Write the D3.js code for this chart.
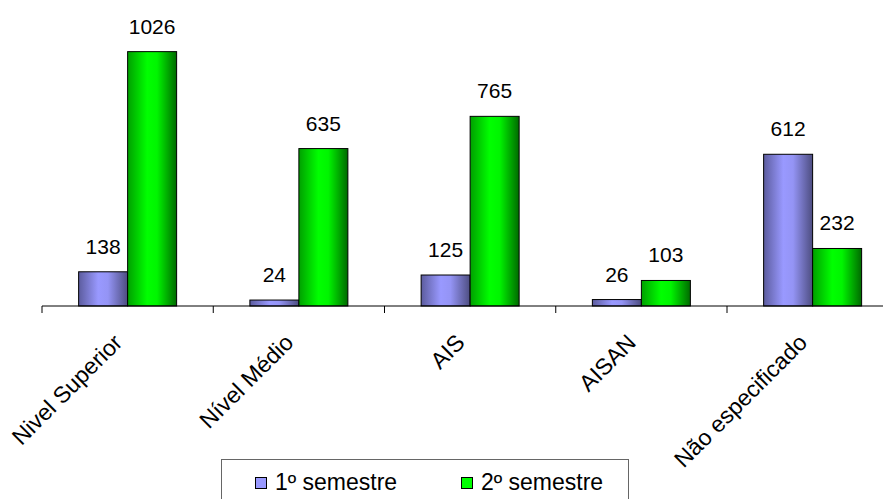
<!DOCTYPE html>
<html>
<head>
<meta charset="utf-8">
<script src="https://cdn.jsdelivr.net/npm/d3@7/dist/d3.min.js"></script>
<style>
  html, body { margin: 0; padding: 0; background: #fff; }
  svg { display: block; font-family: "Liberation Sans", Arial, sans-serif; }
</style>
</head>
<body>
<svg id="chart" width="883" height="499"></svg>
<script>
// Categories and values per semester
const categories = ["Nivel Superior", "Nível Médio", "AIS", "AISAN", "Não especificado"];
const semestre1 = [138, 24, 125, 26, 612];
const semestre2 = [1026, 635, 765, 103, 232];
const seriesNames = ["1º semestre", "2º semestre"];

const svg = d3.select("#chart");

const plotLeft = 42, bandW = 171.25, baseY = 306, topY = 8.5;

const x = d3.scaleBand()
  .domain(categories)
  .range([plotLeft, plotLeft + bandW * categories.length])
  .paddingInner(0).paddingOuter(0);

const y = d3.scaleLinear().domain([0, 1200]).range([baseY, topY]);

// Horizontal gradients giving the cylinder-like shading
const defs = svg.append("defs");
const gradSpecs = [
  { id: "g0", stops: [["0%", "#5c5c9e"], ["40%", "#9999ff"], ["60%", "#9494f5"], ["100%", "#4d4d80"]] },
  { id: "g1", stops: [["0%", "#00a000"], ["40%", "#00ff00"], ["60%", "#00f500"], ["100%", "#006a00"]] }
];
gradSpecs.forEach(g => {
  const lg = defs.append("linearGradient").attr("id", g.id)
    .attr("x1", "0%").attr("x2", "100%").attr("y1", "0%").attr("y2", "0%");
  g.stops.forEach(s => lg.append("stop").attr("offset", s[0]).attr("stop-color", s[1]));
});
const legendFill = ["#9999ff", "#00ff00"];

const barW = 49;
const series = [semestre1, semestre2];

// Bars
series.forEach((vals, si) => {
  svg.append("g").selectAll("rect")
    .data(vals)
    .join("rect")
    .attr("x", (d, i) => x(categories[i]) + bandW / 2 - barW + si * barW)
    .attr("y", d => y(d))
    .attr("width", barW)
    .attr("height", d => baseY - y(d))
    .attr("fill", `url(#g${si})`)
    .attr("stroke", "#000")
    .attr("stroke-width", 1);

  // Value labels
  svg.append("g").selectAll("text")
    .data(vals)
    .join("text")
    .attr("x", (d, i) => x(categories[i]) + bandW / 2 - barW / 2 + si * barW)
    .attr("y", d => y(d) - 18)
    .attr("text-anchor", "middle")
    .attr("font-size", 21)
    .attr("fill", "#000")
    .text(d => d);
});

// Category axis
svg.append("line")
  .attr("x1", plotLeft).attr("x2", 883)
  .attr("y1", baseY).attr("y2", baseY)
  .attr("stroke", "#000").attr("stroke-width", 1);

svg.append("g").selectAll("line")
  .data(d3.range(categories.length + 1))
  .join("line")
  .attr("x1", i => plotLeft + i * bandW).attr("x2", i => plotLeft + i * bandW)
  .attr("y1", baseY).attr("y2", baseY + 7)
  .attr("stroke", "#000").attr("stroke-width", 1);

svg.append("g").selectAll("text")
  .data(categories)
  .join("text")
  .attr("transform", d => `translate(${x(d) + bandW / 2 - 4},${baseY + 38}) rotate(-45)`)
  .attr("text-anchor", "end")
  .attr("font-size", 23)
  .attr("fill", "#000")
  .text(d => d);

// Legend
const lg = svg.append("g");
lg.append("rect")
  .attr("x", 221.5).attr("y", 459.5)
  .attr("width", 407).attr("height", 60)
  .attr("fill", "#fff").attr("stroke", "#666").attr("stroke-width", 1);

const legendX = [255, 461];
seriesNames.forEach((name, i) => {
  lg.append("rect")
    .attr("x", legendX[i] + 0.5).attr("y", 477.5)
    .attr("width", 11).attr("height", 11)
    .attr("fill", legendFill[i]).attr("stroke", "#000").attr("stroke-width", 1);
  lg.append("text")
    .attr("x", legendX[i] + 20).attr("y", 490)
    .attr("font-size", 23)
    .attr("fill", "#000")
    .text(name);
});
</script>
</body>
</html>
